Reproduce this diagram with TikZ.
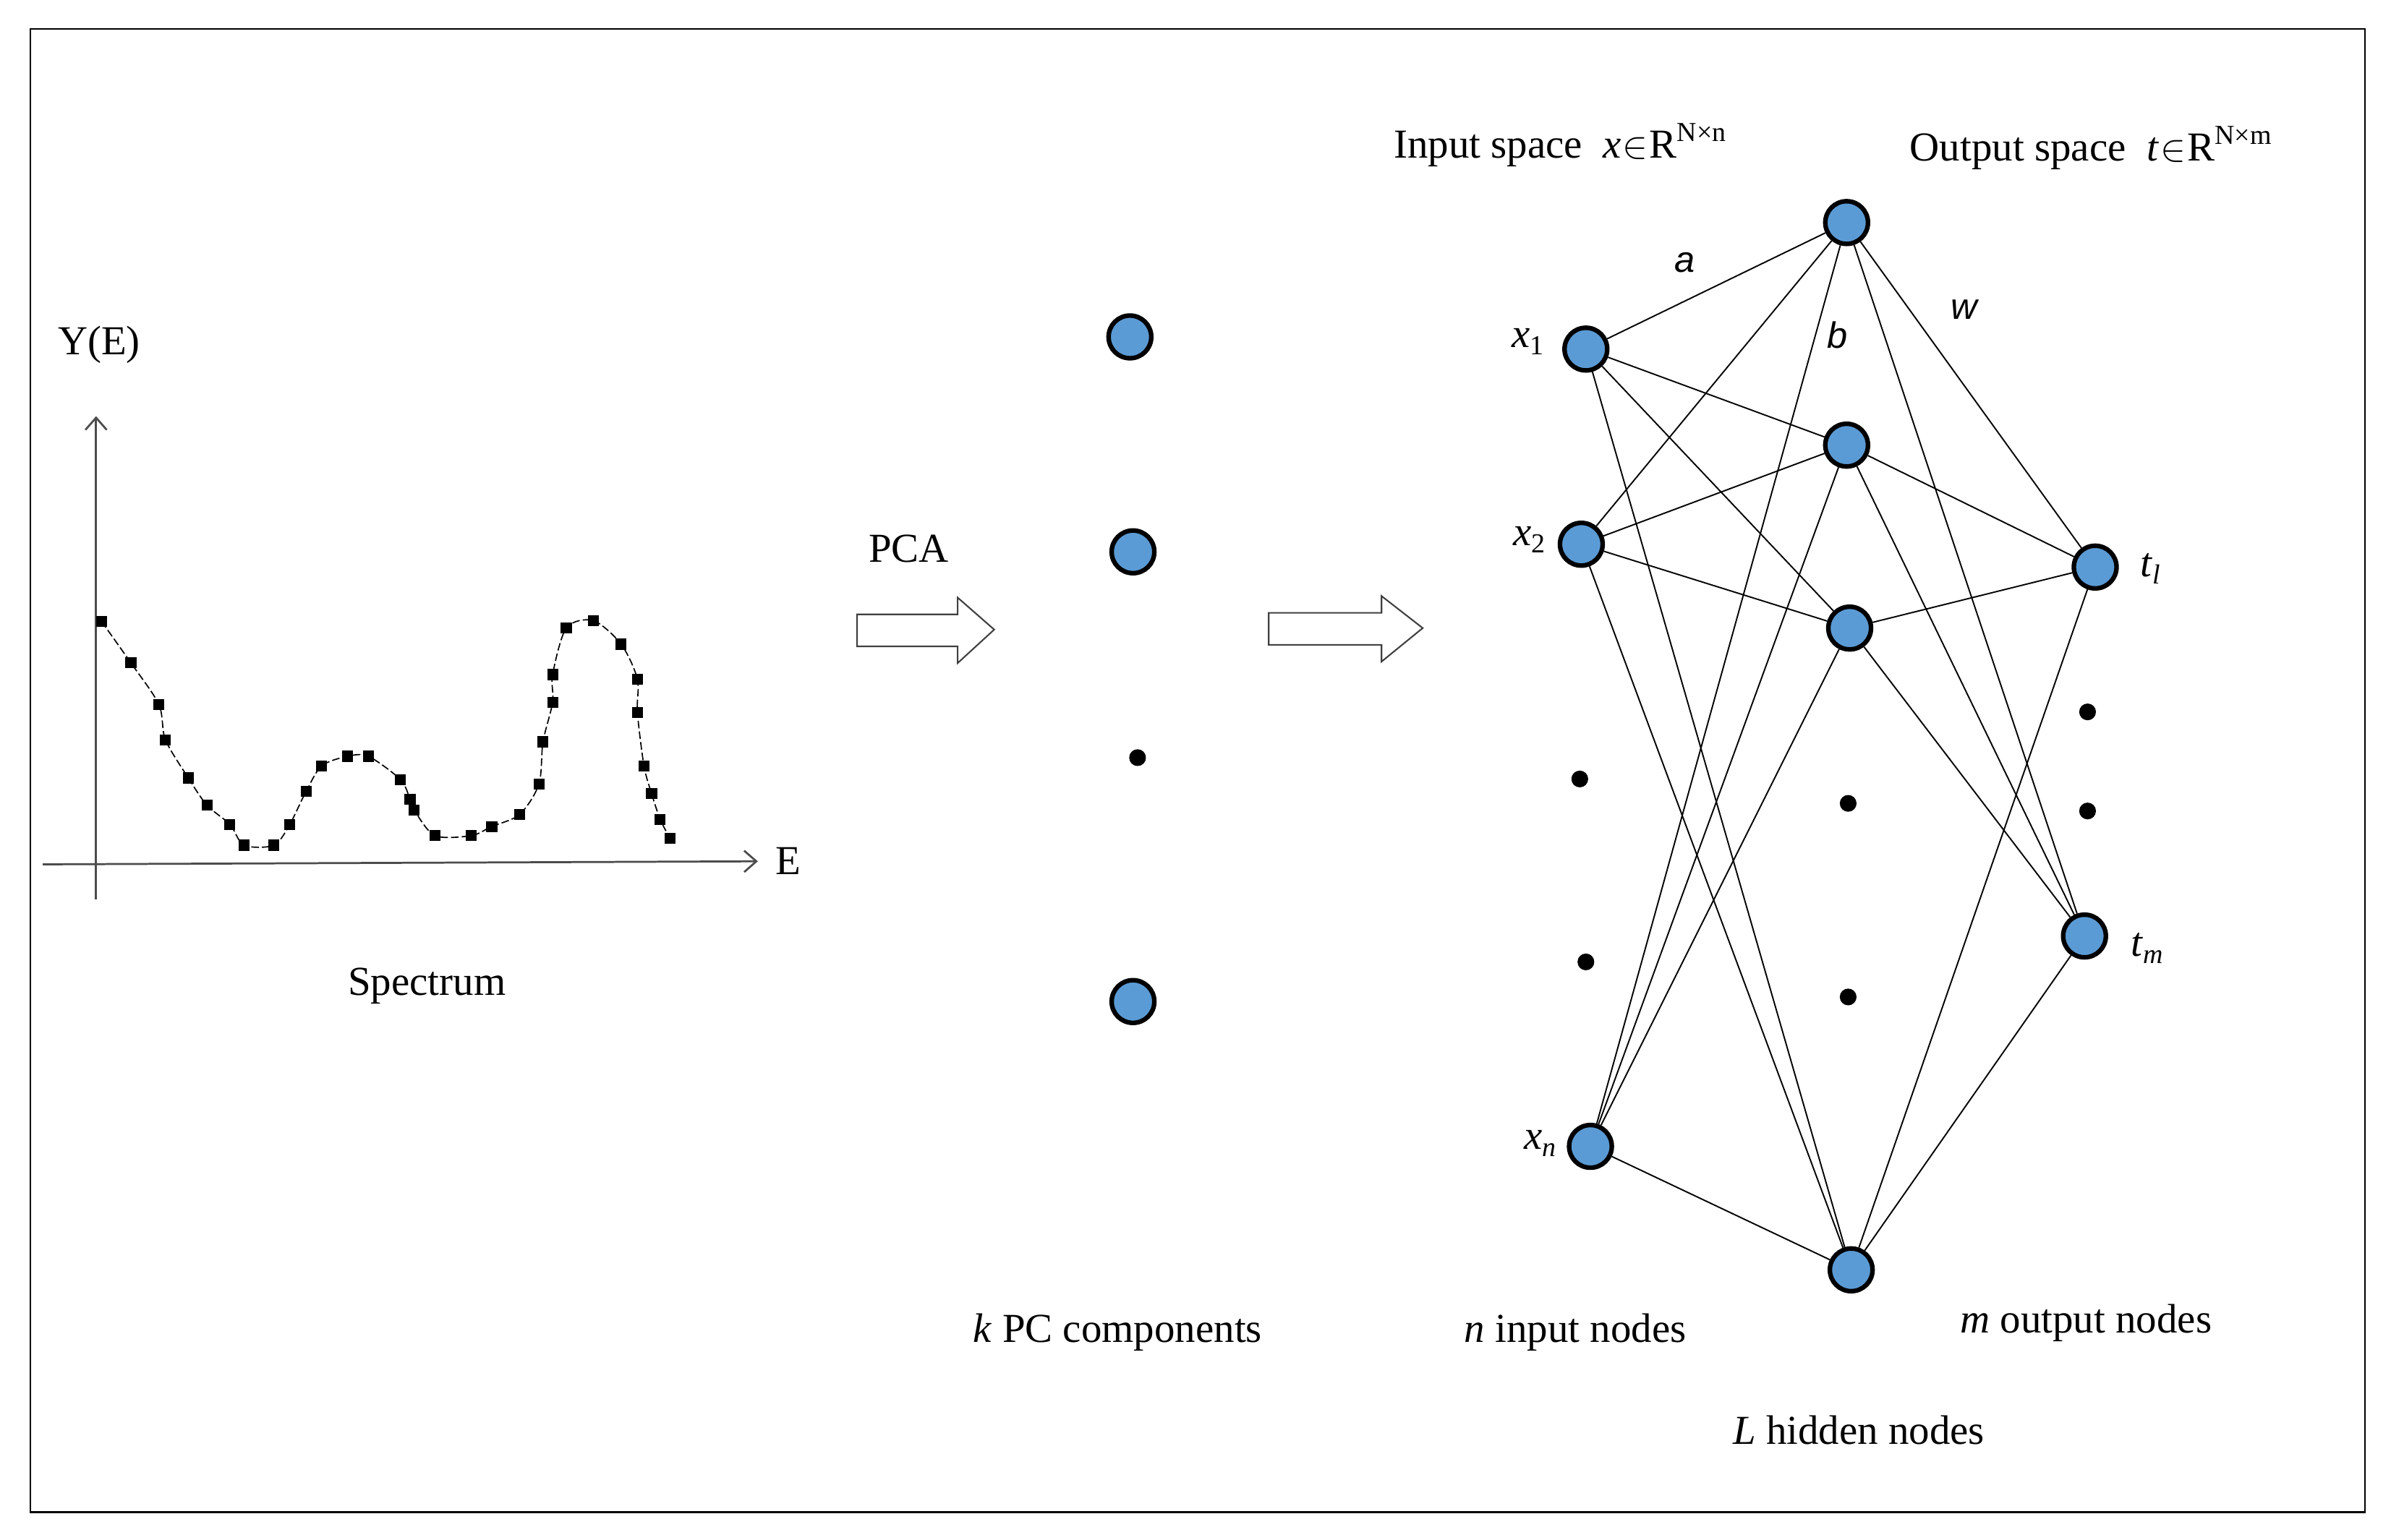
\documentclass[tikz,border=0pt]{standalone}
\usepackage{fontspec}
\setmainfont{Liberation Serif}
\newfontfamily\sansf{Liberation Sans}
\usetikzlibrary{arrows.meta}
\newcommand{\lowsub}[1]{\raisebox{-5pt}{\fontsize{18}{18}\selectfont #1}}
\newcommand{\highsup}[1]{\raisebox{11pt}{\fontsize{18}{18}\selectfont #1}}
\begin{document}
\begin{tikzpicture}[x=1pt,y=-1pt,
  nd/.style={circle,draw=black,line width=3pt,fill=nodeblue,minimum size=28pt,inner sep=0pt},
  dt/.style={circle,fill=black,minimum size=11pt,inner sep=0pt},
  lbl/.style={font=\fontsize{27}{31}\selectfont,inner sep=0pt},
  wl/.style={font=\sansf\itshape\fontsize{24}{28}\selectfont,inner sep=0pt},
  ed/.style={line width=0.9pt},
  ax/.style={line width=1.3pt,draw=black!70,-{Straight Barb[length=8pt,width=14pt]}}]
\definecolor{nodeblue}{HTML}{5B9BD5}
\useasboundingbox (0,0) rectangle (1568,1010);
\draw[line width=1.2pt] (20,19) rectangle (1551,992);
% spectrum axes
\draw[ax] (63,590) -- (63,273);
\draw[ax] (28,567) -- (497,565);
\node[lbl] at (65,226) {Y(E)};
\node[lbl] at (517,565) {E};
\node[lbl] at (280,647) {Spectrum};
\begin{scope}[shift={(0,189.8)}]
\begin{scope}[x=0.3328pt,y=-0.2723pt]
\draw[line width=0.8pt,dash pattern=on 5pt off 2pt] plot[smooth,tension=0.5] coordinates {(200,800)(258,900)(313,1000)(326,1085)(371,1177)(408,1243)(453,1289)(481,1339)(540,1339)(571,1289)(603,1210)(634,1148)(685,1125)(726,1125)(789,1181)(808,1228)(816,1254)(857,1316)(929,1316)(969,1294)(1024,1265)(1062,1192)(1070,1090)(1089,995)(1089,928)(1116,816)(1169,798)(1224,855)(1256,939)(1256,1019)(1269,1148)(1284,1215)(1301,1277)(1320,1322)};
\foreach \p in {(200,800),(258,900),(313,1000),(326,1085),(371,1177),(408,1243),(453,1289),(481,1339),(540,1339),(571,1289),(603,1210),(634,1148),(685,1125),(726,1125),(789,1181),(808,1228),(816,1254),(857,1316),(929,1316),(969,1294),(1024,1265),(1062,1192),(1070,1090),(1089,995),(1089,928),(1116,816),(1169,798),(1224,855),(1256,939),(1256,1019),(1269,1148),(1284,1215),(1301,1277),(1320,1322)}
  \fill \p ++(-3.6pt,-3.6pt) rectangle ++(7.2pt,7.2pt);
\end{scope}
\end{scope}
% block arrows
\draw[line width=1pt,draw=black!75] (562,403) -- (628,403) -- (628,392) -- (652,413) -- (628,435) -- (628,424) -- (562,424) -- cycle;
\draw[line width=1pt,draw=black!75] (832,402) -- (906,402) -- (906,391) -- (933,412) -- (906,434) -- (906,423) -- (832,423) -- cycle;
\node[lbl] at (596,360) {PCA};
% PC nodes
\node[nd] (p1) at (741,221) {};
\node[nd] (p2) at (743,362) {};
\node[dt] (pd) at (746,497) {};
\node[nd] (pk) at (743,657) {};
% network nodes
\node[nd] (x1) at (1040,229) {};
\node[nd] (x2) at (1037,357) {};
\node[dt] (xd1) at (1036,511) {};
\node[dt] (xd2) at (1040,631) {};
\node[nd] (xn) at (1043,752) {};
\node[nd] (h1) at (1211,146) {};
\node[nd] (h2) at (1211,292) {};
\node[nd] (h3) at (1213,412) {};
\node[dt] (hd1) at (1212,527) {};
\node[dt] (hd2) at (1212,654) {};
\node[nd] (hL) at (1214,833) {};
\node[nd] (t1) at (1374,372) {};
\node[dt] (td1) at (1369,467) {};
\node[dt] (td2) at (1369,532) {};
\node[nd] (tm) at (1367,614) {};
\foreach \i in {x1,x2,xn}
  \foreach \j in {h1,h2,h3,hL}
    \draw[ed] (\i) -- (\j);
\foreach \j in {h1,h2,h3,hL}
  \foreach \k in {t1,tm}
    \draw[ed] (\j) -- (\k);
% labels
\node[lbl] at (1002,224) {\textit{x}\lowsub{1}};
\node[lbl] at (1003,354) {\textit{x}\lowsub{2}};
\node[lbl] at (1010,750) {\textit{x}\lowsub{\textit{n}}};
\node[lbl] at (1410,373) {\textit{t}\lowsub{\textit{l}}};
\node[lbl] at (1408,622) {\textit{t}\lowsub{\textit{m}}};
\node[wl] at (1105,172) {a};
\node[wl] at (1205,220) {b};
\node[wl] at (1288,203) {w};
\node[lbl] at (1023,95) {Input space\ \ \textit{x}\kern1pt$\in$\kern1pt R\highsup{N×n}};
\node[lbl] at (1371,97) {Output space\ \ \textit{t}\kern1pt$\in$\kern1pt R\highsup{N×m}};
\node[lbl] at (733,874) {\textit{k} PC components};
\node[lbl] at (1033,874) {\textit{n} input nodes};
\node[lbl] at (1368,868) {\textit{m} output nodes};
\node[lbl] at (1219,938) {\textit{L} hidden nodes};
\end{tikzpicture}
\end{document}
